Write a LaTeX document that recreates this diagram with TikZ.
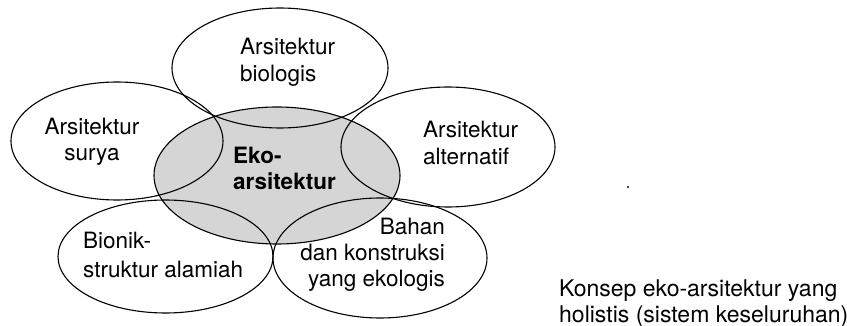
\documentclass[tikz,border=0pt]{standalone}
\usepackage{fontspec}
\setmainfont{TeX Gyre Heros}
\usetikzlibrary{shapes.geometric}
\tikzset{
  petal/.style={ellipse, draw=black, line width=1.1pt, inner sep=0pt},
  core/.style={ellipse, fill=gray!33, draw=none, inner sep=0pt},
  lbl/.style={inner sep=0pt, align=left, font=\fontsize{22.5}{27}\selectfont},
  lblr/.style={inner sep=0pt, align=right, font=\fontsize{22.5}{26}\selectfont},
  captext/.style={inner sep=0pt, align=left, font=\fontsize{23}{25.5}\selectfont},
}
\begin{document}
\begin{tikzpicture}[x=1pt,y=-1pt]
\useasboundingbox (0,0) rectangle (847,326);
% gray core fill
\node[core, minimum width=246pt, minimum height=137pt] (corefill) at (277,175.5) {};
% outlines
\node[petal, minimum width=216pt, minimum height=120pt] (top) at (280,68) {};
\node[petal, minimum width=212pt, minimum height=118pt] (left) at (117,141) {};
\node[petal, minimum width=214pt, minimum height=120pt] (right) at (448,147) {};
\node[petal, minimum width=215pt, minimum height=113pt] (bl) at (165.5,256.5) {};
\node[petal, minimum width=214pt, minimum height=120pt] (br) at (380,258) {};
\node[petal, minimum width=246pt, minimum height=137pt] (center) at (277,175.5) {};
% labels (anchor = baseline of last line)
\node[lbl, anchor=base west] (tbiol) at (240,82) {Arsitektur\\biologis};
\node[lbl, anchor=base west] (talt) at (423,165) {Arsitektur\\alternatif};
\node[lbl, anchor=base, align=center, font=\fontsize{22.5}{26}\selectfont] (tsur) at (92,161) {Arsitektur\\surya};
\node[lbl, anchor=base west, font=\bfseries\fontsize{22.5}{27}\selectfont] (teko) at (233,190) {Eko-\\arsitektur};
\node[lbl, anchor=base west, font=\fontsize{22.5}{29}\selectfont] (tbio) at (83,277) {Bionik-\\struktur alamiah};
\node[lblr, anchor=base east] (tbah) at (445,287) {Bahan\\dan konstruksi\\yang ekologis};
\node[captext, anchor=base west] (tcap) at (559,322) {Konsep eko-arsitektur yang\\holistis (sistem keseluruhan)};
\fill (628,187) circle (1.2pt);
\end{tikzpicture}
\end{document}
